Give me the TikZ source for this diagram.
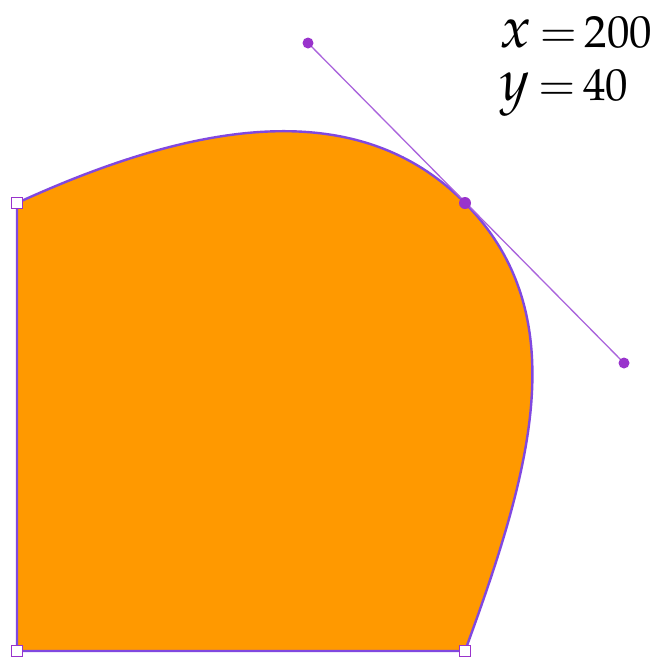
\documentclass[tikz,border=0pt]{standalone}
\usepackage{mathpazo}
\usepackage{graphicx}
\usepackage{xcolor}
\usepackage{tikz}
\usetikzlibrary{positioning, calc}

\definecolor{fillorange}{RGB}{255,153,0}
\definecolor{edgepurple}{RGB}{128,72,224}
\definecolor{handlepurple}{RGB}{153,51,204}
\definecolor{handleline}{RGB}{170,100,220}

\newcommand{\bigvar}[1]{\scalebox{1.28}{$#1$}}

\tikzset{
    cornerpt/.style={draw=handlepurple, fill=white, line width=1.8pt, minimum size=11pt, inner sep=0pt, rectangle},
    smoothpt/.style={fill=handlepurple, circle, minimum size=12pt, inner sep=0pt},
    handlept/.style={fill=handlepurple, circle, minimum size=11pt, inner sep=0pt},
    coordlabel/.style={anchor=base west, inner sep=0pt, font=\fontsize{45}{54}\selectfont}
}

\begin{document}
\begin{tikzpicture}[x=1pt, y=-1pt]
        \useasboundingbox (0,0) rectangle (656,657);

        % Points
        \coordinate (topleft) at (17,203);
        \coordinate (smooth) at (465,203);
        \coordinate (botright) at (465,651);
        \coordinate (botleft) at (17,651);
        \coordinate (handlein) at (308,43);
        \coordinate (handleout) at (624,363);

        % Shape
        \draw[edgepurple, line width=2.4pt, fill=fillorange]
            (topleft) .. controls (187,125) and (355,91) .. (smooth)
            .. controls (576,315) and (531,471) .. (botright)
            -- (botleft) -- cycle;

        % Handles
        \draw[handleline, line width=1.3pt] (handlein) -- (handleout);
        \node[handlept] (hin) at (handlein) {};
        \node[handlept] (hout) at (handleout) {};
        \node[smoothpt] (sp) at (smooth) {};

        % Corners
        \node[cornerpt] (c1) at (topleft) {};
        \node[cornerpt] (c2) at (botleft) {};
        \node[cornerpt] (c3) at (botright) {};

        % Labels
        \node[coordlabel] (xval) at (500,47) {\thickmuskip=3mu $\bigvar{x} = 200$};
        \node[coordlabel] (yval) at (500,100) {\thickmuskip=3mu $\bigvar{y} = 40$};

    \end{tikzpicture}
\end{document}
